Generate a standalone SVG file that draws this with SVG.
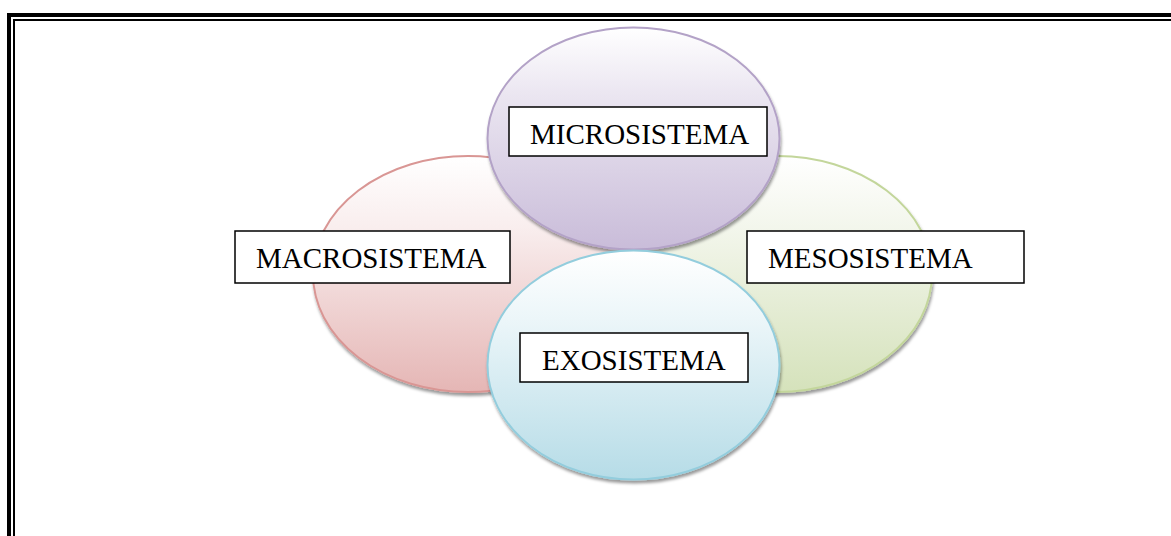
<svg xmlns="http://www.w3.org/2000/svg" width="1171" height="536" viewBox="0 0 1171 536">
<style>
.lbl{fill:#fff;stroke:#000;stroke-width:1.5}
.txt{font-family:"Liberation Serif","Times New Roman",serif;font-size:29px;fill:#000}
.ell{stroke-width:2;filter:url(#sh)}
</style>
<defs>
<filter id="sh" x="-10%" y="-10%" width="125%" height="125%">
<feDropShadow dx="1" dy="3" stdDeviation="1.5" flood-color="#000" flood-opacity="0.4"/>
</filter>
<linearGradient id="gR" x1="0" y1="0" x2="0" y2="1"><stop offset="0" stop-color="#ffffff"/><stop offset="0.3" stop-color="#f9eeee"/><stop offset="1" stop-color="#e5b6b5"/></linearGradient>
<linearGradient id="gP" x1="0" y1="0" x2="0" y2="1"><stop offset="0" stop-color="#ffffff"/><stop offset="0.3" stop-color="#ebe6f1"/><stop offset="1" stop-color="#c9bcd9"/></linearGradient>
<linearGradient id="gG" x1="0" y1="0" x2="0" y2="1"><stop offset="0" stop-color="#ffffff"/><stop offset="0.3" stop-color="#f3f6ec"/><stop offset="1" stop-color="#d5e2bb"/></linearGradient>
<linearGradient id="gB" x1="0" y1="0" x2="0" y2="1"><stop offset="0" stop-color="#ffffff"/><stop offset="0.3" stop-color="#ecf6f9"/><stop offset="1" stop-color="#b6dce7"/></linearGradient>
</defs>
<rect width="1171" height="536" fill="#fff"/>
<g id="frame">
<rect x="7" y="13" width="1164" height="4" fill="#000"/>
<rect x="7" y="13" width="4" height="523" fill="#000"/>
<rect x="13" y="19" width="1158" height="2" fill="#000"/>
<rect x="13" y="19" width="2" height="517" fill="#000"/>
</g>
<g id="macro-circle"><ellipse class="ell" cx="468" cy="274" rx="155" ry="118" fill="url(#gR)" stroke="#d99694"/></g>
<g id="meso-circle"><ellipse class="ell" cx="777" cy="274" rx="155" ry="118" fill="url(#gG)" stroke="#c3d69b"/></g>
<g id="micro-circle"><ellipse class="ell" cx="633.5" cy="138.5" rx="146" ry="111" fill="url(#gP)" stroke="#b3a2c7"/></g>
<g id="exo-circle"><ellipse class="ell" cx="633.5" cy="365" rx="146" ry="114.5" fill="url(#gB)" stroke="#93cddd"/></g>
<g id="connectors"></g>
<g id="micro">
<rect class="lbl" x="509" y="107" width="258" height="49"/>
<text class="txt" x="530" y="144">MICROSISTEMA</text>
</g>
<g id="macro">
<rect class="lbl" x="235" y="231" width="275" height="52"/>
<text class="txt" x="256" y="268">MACROSISTEMA</text>
</g>
<g id="meso">
<rect class="lbl" x="747" y="231" width="277" height="52"/>
<text class="txt" x="768" y="268">MESOSISTEMA</text>
</g>
<g id="exo">
<rect class="lbl" x="520" y="333" width="228" height="49"/>
<text class="txt" x="542" y="370">EXOSISTEMA</text>
</g>
</svg>
